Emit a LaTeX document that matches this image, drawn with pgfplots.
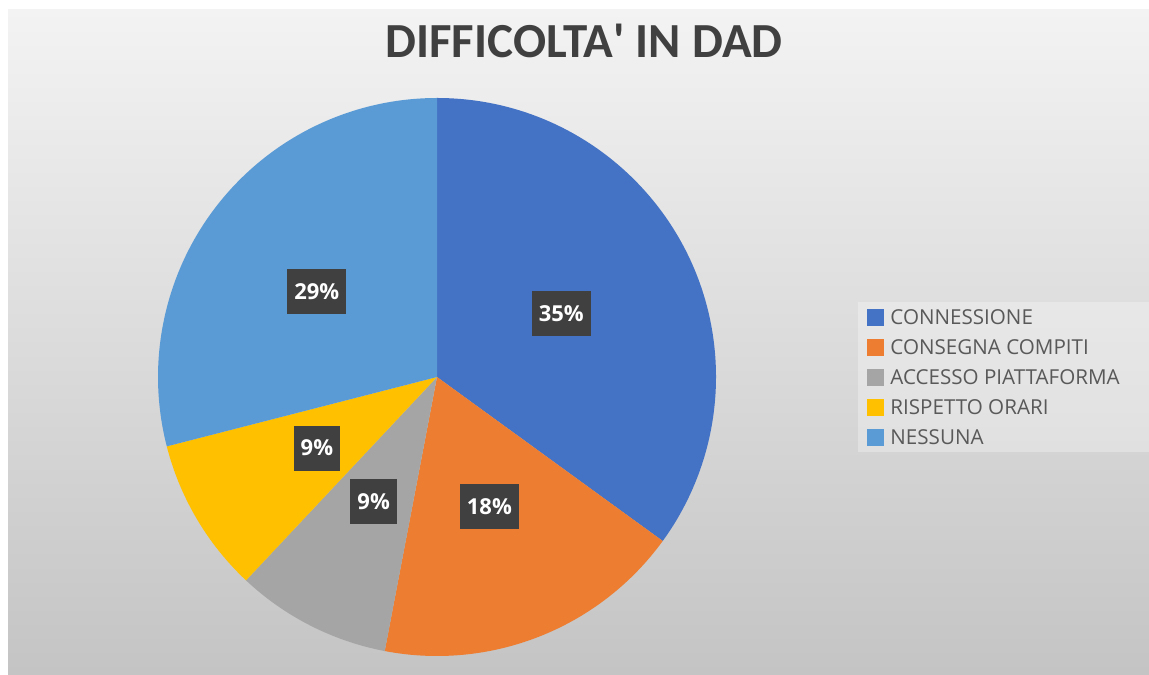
\documentclass[border=0pt]{standalone}
\usepackage{pgfplots}
\pgfplotsset{compat=1.18}
\usepackage{pgfplotstable}
\usepackage{fontspec}
\setmainfont{Carlito}
\newfontfamily\legfont{Open Sans}
\definecolor{pie0}{HTML}{4472C4}
\definecolor{pie1}{HTML}{ED7D31}
\definecolor{pie2}{HTML}{A5A5A5}
\definecolor{pie3}{HTML}{FFC000}
\definecolor{pie4}{HTML}{5B9BD5}
\definecolor{titlegray}{HTML}{404040}
\definecolor{leggray}{HTML}{595959}
\definecolor{lblbox}{HTML}{404040}
\definecolor{bgtop}{HTML}{F3F3F3}
\definecolor{bgbot}{HTML}{C4C4C4}

% value in percent; dx = small horizontal nudge of the data label (px)
\pgfplotstableread[col sep=comma]{
name,value,dx
CONNESSIONE,35,0
CONSEGNA COMPITI,18,1
ACCESSO PIATTAFORMA,9,0
RISPETTO ORARI,9,0
NESSUNA,29,-10
}\pietable

\newcommand\lblfont{\legfont\bfseries\fontsize{11}{13}\selectfont}
\newcommand\lgfont{\legfont\fontsize{10.3}{12}\selectfont}

\begin{document}
\begin{tikzpicture}
\begin{axis}[scale only axis, width=574.5pt, height=337pt,
  xmin=0, xmax=1149, ymin=0, ymax=674, hide axis, clip=false]
\fill[white] (axis cs:0,0) rectangle (axis cs:1149,674);
\shade[top color=bgtop, bottom color=bgbot] (axis cs:8,0) rectangle (axis cs:1149,664);
\fill[white, opacity=0.3] (axis cs:858,222) rectangle (axis cs:1149,372);
\node[anchor=base, text=titlegray, font=\bfseries\fontsize{24.5}{28}\selectfont]
  at (axis cs:584,616) {DIFFICOLTA\textquotesingle{} IN DAD};
\def\angA{90}
\pgfplotstablegetrowsof{\pietable}
\pgfmathtruncatemacro\nrows{\pgfplotsretval-1}
\pgfplotsforeachungrouped \i in {0,...,\nrows}{%
  \pgfplotstablegetelem{\i}{value}\of\pietable
  \let\val\pgfplotsretval
  \pgfplotstablegetelem{\i}{dx}\of\pietable
  \let\ddx\pgfplotsretval
  \pgfplotstablegetelem{\i}{name}\of\pietable
  \let\nm\pgfplotsretval
  \pgfmathsetmacro\angB{\angA-3.6*\val}
  \pgfmathsetmacro\angM{(\angA+\angB)/2}
  \pgfmathsetmacro\lx{437+139.5*cos(\angM)+\ddx}
  \pgfmathsetmacro\ly{297+139.5*sin(\angM)}
  \pgfmathsetmacro\ry{356.5-29.9*\i}
  \pgfmathsetmacro\rb{\ry-8.5}
  \pgfmathsetmacro\rt{\ry+8.5}
  \edef\cmd{%
    \noexpand\fill[pie\i] (axis cs:437,297) -- ++(\angA:139.5pt)
       arc[start angle=\angA, end angle=\angB, radius=139.5pt] -- cycle;
    \noexpand\node[fill=lblbox, text=white, font=\noexpand\lblfont,
       minimum height=22.5pt, inner xsep=3.5pt, inner ysep=0pt] at (axis cs:\lx,\ly) {\val\noexpand\%};
    \noexpand\fill[pie\i] (axis cs:867,\rb) rectangle (axis cs:884,\rt);
    \noexpand\node[anchor=west, inner sep=0pt, text=leggray, font=\noexpand\lgfont]
       at (axis cs:890,\ry) {\nm};
  }\cmd
  \let\angA\angB
}
\end{axis}
\end{tikzpicture}
\end{document}
